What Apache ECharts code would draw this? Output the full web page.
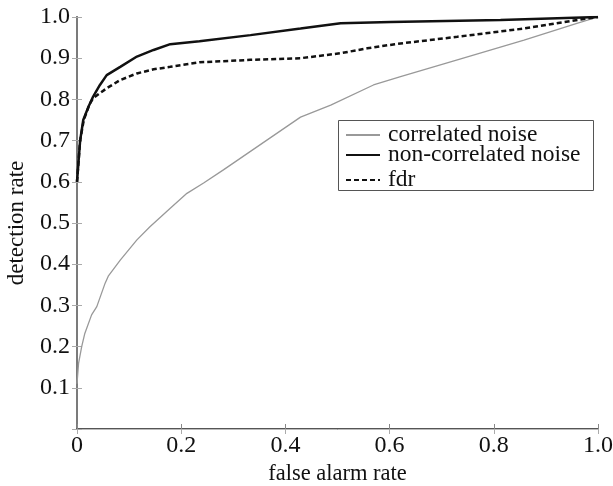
<!DOCTYPE html>
<html>
<head>
<meta charset="utf-8">
<script src="https://cdn.jsdelivr.net/npm/echarts@6/dist/echarts.min.js"></script>
<style>
  html, body { margin: 0; padding: 0; background: #fff; }
  #chart { width: 613px; height: 486px; }
</style>
</head>
<body>
<div id="chart"></div>
<script>
// ROC curves: [false alarm rate, detection rate]
const correlatedNoise = [
  [0.000, 0.110], [0.003, 0.159], [0.009, 0.200], [0.015, 0.232], [0.028, 0.277],
  [0.038, 0.297], [0.054, 0.354], [0.060, 0.371], [0.083, 0.410], [0.115, 0.459],
  [0.140, 0.491], [0.179, 0.536], [0.211, 0.572], [0.243, 0.597], [0.281, 0.629],
  [0.429, 0.757], [0.487, 0.786], [0.569, 0.835], [0.621, 0.855], [0.730, 0.896],
  [0.858, 0.944], [0.961, 0.985], [1.000, 1.000]
];
const nonCorrelatedNoise = [
  [0.000, 0.600], [0.006, 0.700], [0.012, 0.750], [0.022, 0.782], [0.031, 0.807],
  [0.044, 0.835], [0.057, 0.859], [0.083, 0.879], [0.115, 0.904], [0.147, 0.920],
  [0.179, 0.934], [0.235, 0.941], [0.333, 0.956], [0.429, 0.972], [0.506, 0.985],
  [0.602, 0.988], [0.813, 0.993], [1.000, 1.000]
];
const fdr = [
  [0.000, 0.600], [0.006, 0.700], [0.013, 0.750], [0.024, 0.788], [0.031, 0.803],
  [0.044, 0.815], [0.057, 0.827], [0.083, 0.847], [0.115, 0.863], [0.147, 0.873],
  [0.179, 0.879], [0.235, 0.890], [0.333, 0.896], [0.429, 0.900], [0.506, 0.912],
  [0.557, 0.924], [0.610, 0.934], [0.730, 0.952], [0.858, 0.972], [0.961, 0.993],
  [1.000, 1.000]
];
const seriesNames = ['correlated noise', 'non-correlated noise', 'fdr'];
const xTitle = 'false alarm rate';
const yTitle = 'detection rate';

const FONT = '"Liberation Serif", "DejaVu Serif", serif';
const chart = echarts.init(document.getElementById('chart'), null, { renderer: 'canvas' });

const fmt = v => (v === 0 ? '0' : v.toFixed(1));
// one legend per row so each entry sits at its own height inside the box
const legendRow = (name, top) => ({
  data: [name], left: 345, top: top, orient: 'horizontal', padding: 0,
  itemWidth: 34, itemHeight: 14, itemGap: 0, selectedMode: false,
  itemStyle: { color: 'rgba(0,0,0,0)', borderWidth: 0 },
  textStyle: { fontFamily: FONT, fontSize: 23.5, color: '#111', lineHeight: 20, padding: [0, 0, 0, 3] }
});

chart.setOption({
  animation: false,
  backgroundColor: '#fff',
  grid: { left: 77, right: 15, top: 17, bottom: 57, containLabel: false, outerBoundsMode: 'none' },
  xAxis: [{
    type: 'value', min: 0, max: 1, interval: 0.2, position: 'bottom',
    name: xTitle, nameLocation: 'middle', nameGap: 33,
    nameTextStyle: { fontFamily: FONT, fontSize: 22.5, color: '#111' },
    axisLine: { lineStyle: { color: '#555', width: 2 } },
    axisTick: { inside: true, length: 5, lineStyle: { color: '#888' } },
    axisLabel: { fontFamily: FONT, fontSize: 24, color: '#111', margin: 5, formatter: fmt },
    splitLine: { show: false }
  }, {
    type: 'value', min: 0, max: 1, interval: 0.2, position: 'top',
    axisLine: { lineStyle: { color: '#bbb', width: 1 } },
    axisTick: { inside: true, length: 5, lineStyle: { color: '#aaa' } },
    axisLabel: { show: false }, splitLine: { show: false }
  }],
  yAxis: [{
    type: 'value', min: 0, max: 1, interval: 0.1, position: 'left',
    name: yTitle, nameLocation: 'middle', nameGap: 49, nameRotate: 90,
    nameTextStyle: { fontFamily: FONT, fontSize: 23, color: '#111' },
    axisLine: { show: true, lineStyle: { color: '#555', width: 2 } },
    axisTick: { show: true, inside: true, length: 5, lineStyle: { color: '#aaa' } },
    axisLabel: { fontFamily: FONT, fontSize: 24, color: '#111', margin: 7,
      formatter: v => (v === 0 ? '' : v.toFixed(1)) },
    splitLine: { show: false }
  }, {
    type: 'value', min: 0, max: 1, interval: 0.1, position: 'right',
    axisLine: { show: true, lineStyle: { color: '#888', width: 1.5 } },
    axisTick: { show: true, inside: true, length: 5, lineStyle: { color: '#aaa' } },
    axisLabel: { show: false }, splitLine: { show: false }
  }],
  legend: [
    legendRow(seriesNames[0], 123),
    legendRow(seriesNames[1], 143),
    legendRow(seriesNames[2], 168)
  ],
  graphic: [{
    type: 'rect', z: 10, silent: true,
    shape: { x: 338.5, y: 120.5, width: 255, height: 70 },
    style: { fill: 'rgba(255,255,255,0)', stroke: '#555', lineWidth: 1 }
  }],
  series: [{
    name: seriesNames[0], type: 'line', data: correlatedNoise, symbol: 'none',
    lineStyle: { color: '#999', width: 1.3 }, itemStyle: { color: '#999' }, z: 2
  }, {
    name: seriesNames[1], type: 'line', data: nonCorrelatedNoise, symbol: 'none',
    lineStyle: { color: '#111', width: 2.5 }, itemStyle: { color: '#111' }, z: 3
  }, {
    name: seriesNames[2], type: 'line', data: fdr, symbol: 'none',
    lineStyle: { color: '#111', width: 2.5, type: [5, 3] }, itemStyle: { color: '#111' }, z: 3
  }]
});
</script>
</body>
</html>
